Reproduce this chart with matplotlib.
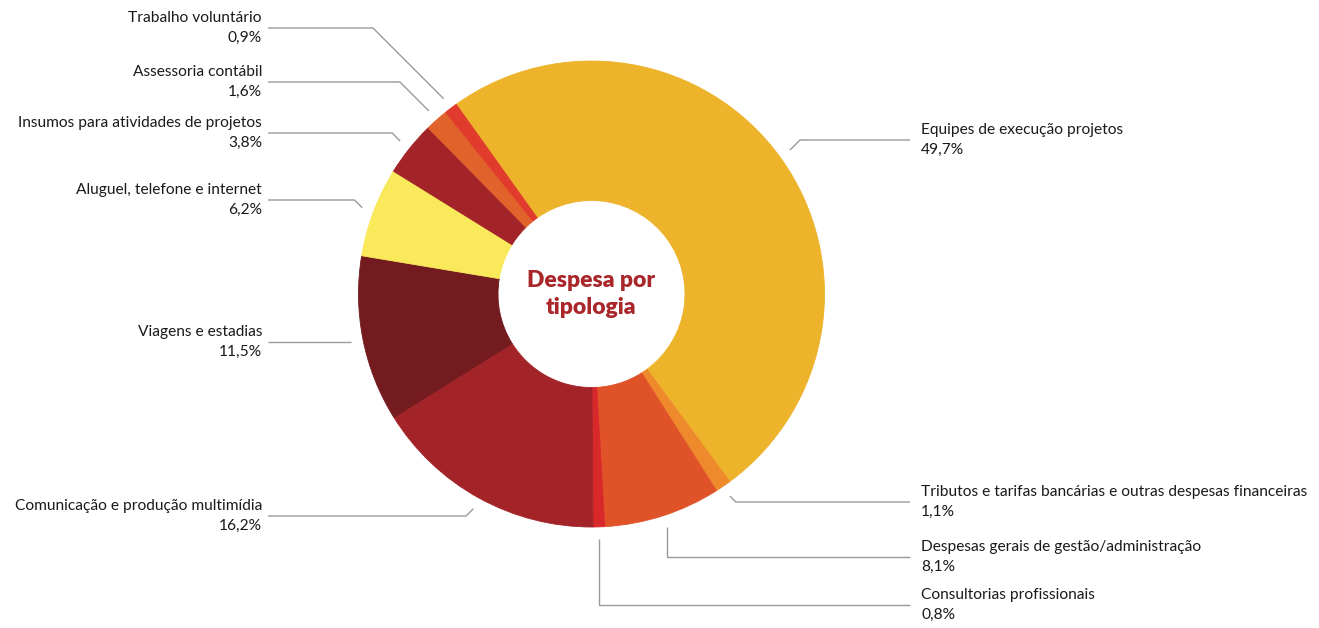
import numpy as np
import matplotlib
matplotlib.use("Agg")
import matplotlib.pyplot as plt

# ---- data ----
categories = [
    "Equipes de execução projetos",
    "Tributos e tarifas bancárias e outras despesas financeiras",
    "Despesas gerais de gestão/administração",
    "Consultorias profissionais",
    "Comunicação e produção multimídia",
    "Viagens e estadias",
    "Aluguel, telefone e internet",
    "Insumos para atividades de projetos",
    "Assessoria contábil",
    "Trabalho voluntário",
]
values = [49.7, 1.1, 8.1, 0.8, 16.2, 11.5, 6.2, 3.8, 1.6, 0.9]
value_labels = ["49,7%", "1,1%", "8,1%", "0,8%", "16,2%", "11,5%", "6,2%", "3,8%", "1,6%", "0,9%"]
colors = ["#EDB42B", "#EE8A2B", "#E05329", "#D9282A", "#A32428",
          "#731B1F", "#F9E95B", "#A32428", "#E2622B", "#E03B2C"]
center_title = "Despesa por\ntipologia"

# ---- layout (pixel coordinates, y from top) ----
W, H = 1319, 628
CX, CY = 591.5, 294.0
R_OUT, R_IN = 233.0, 93.5
START = 125.5
# label side, label line y, leader style
label_side = ["R", "R", "R", "R", "L", "L", "L", "L", "L", "L"]
label_y = [140, 502, 557, 605, 516, 342, 200, 133, 82, 28]
leader_style = ["diag", "diag", "vert", "vert", "diag", "flat", "diag", "diag", "diag", "diag"]
RIGHT_LINE_END, RIGHT_TEXT_X = 910, 921
LEFT_LINE_END, LEFT_TEXT_X = 268, 262

plt.rcParams['font.family'] = ['Lato', 'DejaVu Sans']

fig = plt.figure(figsize=(W / 100, H / 100), dpi=100)
ax = fig.add_axes([0, 0, 1, 1])

def Y(yp):
    return H - yp

wedges, _ = ax.pie(values, colors=colors, startangle=START, counterclock=False,
                   radius=R_OUT, center=(CX, Y(CY)),
                   wedgeprops=dict(width=R_OUT - R_IN, linewidth=0.6))
for w, c in zip(wedges, colors):
    w.set_edgecolor(c)

ax.set_xlim(0, W)
ax.set_ylim(0, H)
ax.set_aspect('auto')
ax.axis('off')

line_kw = dict(color="#9A9A9A", lw=1.0, solid_capstyle='butt')
total = sum(values)
cum = 0.0
for i, v in enumerate(values):
    mid = START - 360.0 * (cum + v / 2) / total
    cum += v
    th = np.deg2rad(mid)
    ax_x = CX + (R_OUT + 12) * np.cos(th)
    ax_y = CY - (R_OUT + 12) * np.sin(th)
    ly = label_y[i]
    side = label_side[i]
    style = leader_style[i]
    if style == "diag":
        d = abs(ly - ax_y)
        ex = ax_x + d if side == "R" else ax_x - d
        xs = [ax_x, ex]
        ys = [ax_y, ly]
    elif style == "vert":
        xs = [ax_x, ax_x]
        ys = [ax_y, ly]
    else:
        xs = [ax_x]
        ys = [ly]
    if side == "R":
        xs.append(RIGHT_LINE_END)
        ys.append(ly)
        tx, ha = RIGHT_TEXT_X, 'left'
    else:
        xs.append(LEFT_LINE_END)
        ys.append(ly)
        tx, ha = LEFT_TEXT_X, 'right'
    ax.plot(xs, [Y(y) for y in ys], **line_kw)
    ax.text(tx, Y(ly), categories[i] + "\n" + value_labels[i], ha=ha, va='center',
            ma=ha, fontsize=11.2, color="#1A1A1A", linespacing=1.55)

ax.text(CX, Y(CY), center_title, ha='center', va='center', ma='center',
        fontsize=16.5, fontweight='heavy', color="#A9262A", linespacing=1.35)

fig.savefig("out.png", dpi=100, facecolor='white')
